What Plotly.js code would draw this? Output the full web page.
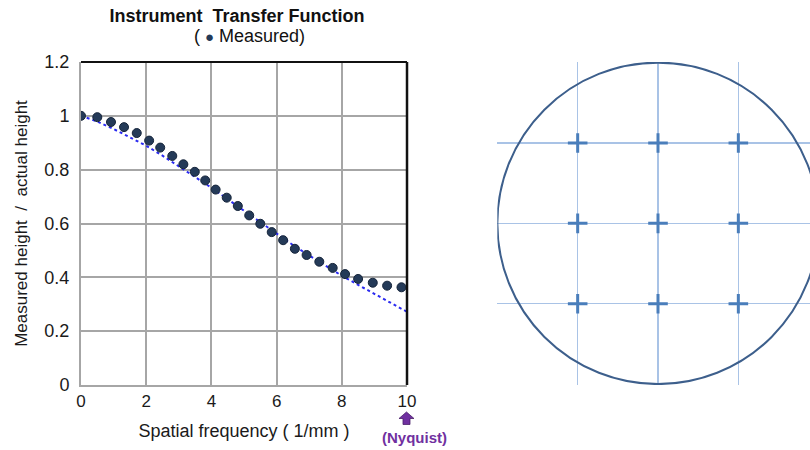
<!DOCTYPE html>
<html>
<head>
<meta charset="utf-8">
<script src="https://cdn.plot.ly/plotly-3.0.1.min.js"></script>
<style>
  html, body { margin: 0; padding: 0; background: #ffffff; }
  #chart { width: 810px; height: 450px; }
</style>
</head>
<body>
<div id="chart"></div>
<script>
// Measured transfer function points
const freqMeasured = [0, 0.5, 0.92, 1.32, 1.71, 2.09, 2.43, 2.8, 3.14, 3.49, 3.81, 4.13, 4.47, 4.81,
  5.16, 5.5, 5.85, 6.2, 6.56, 6.92, 7.31, 7.72, 8.1, 8.5, 8.95, 9.39, 9.83];
const heightMeasured = [1.0, 0.995, 0.977, 0.958, 0.936, 0.908, 0.882, 0.851, 0.82, 0.792, 0.76, 0.726, 0.696, 0.665,
  0.63, 0.599, 0.568, 0.538, 0.506, 0.483, 0.458, 0.435, 0.412, 0.394, 0.38, 0.369, 0.363];

// Model (dotted) curve
const freqModel = [0, 0.5, 1, 1.5, 2, 2.5, 3, 3.5, 4, 4.5, 5, 5.5, 6, 6.5, 7, 7.5, 8, 8.5, 9, 9.5, 10];
const heightModel = [1.0, 0.979, 0.951, 0.921, 0.889, 0.852, 0.813, 0.773, 0.733, 0.690, 0.647, 0.603,
  0.561, 0.520, 0.481, 0.443, 0.406, 0.372, 0.338, 0.305, 0.272];

// Tick labels
const xTicks = [0, 2, 4, 6, 8, 10];
const yTicks = [0, 0.2, 0.4, 0.6, 0.8, 1, 1.2];
const yTickText = ['0', '0.2', '0.4', '0.6', '0.8', '1', '1.2'];

// Sampling grid diagram (right panel)
const gridX = [-1, 0, 1, -1, 0, 1, -1, 0, 1];
const gridY = [1, 1, 1, 0, 0, 0, -1, -1, -1];
const gridLines = [-1, 0, 1];
const apertureRadius = 2;

const FONT = 'Liberation Sans, Arial, sans-serif';
const GRID = '#a6a6a6';

// Layout geometry (pixels)
const W = 810, H = 450, ML = 81, MR = 0, MT = 62, MB = 65;
const PW = W - ML - MR, PH = H - MT - MB;
const px = v => ((v - ML) / PW).toFixed(5);
const py = v => ((H - MB - v) / PH).toFixed(5);

// Block arrow marking the Nyquist frequency (decoration, in pixel geometry)
const ax0 = 406.5, tipY = 412, headY = 418.5, baseY = 424.5, headHW = 7.5, shaftHW = 3.5;
const arrowPath = 'M' + px(ax0) + ',' + py(tipY) +
  ' L' + px(ax0 + headHW) + ',' + py(headY) +
  ' L' + px(ax0 + shaftHW) + ',' + py(headY) +
  ' L' + px(ax0 + shaftHW) + ',' + py(baseY) +
  ' L' + px(ax0 - shaftHW) + ',' + py(baseY) +
  ' L' + px(ax0 - shaftHW) + ',' + py(headY) +
  ' L' + px(ax0 - headHW) + ',' + py(headY) + ' Z';

const traces = [
  {
    x: freqModel, y: heightModel, type: 'scatter', mode: 'lines',
    line: { color: '#2a2af0', width: 2, dash: 'dot' },
    xaxis: 'x', yaxis: 'y', hoverinfo: 'skip'
  },
  {
    x: freqMeasured, y: heightMeasured, type: 'scatter', mode: 'markers',
    marker: { color: '#243a58', size: 9, line: { color: '#15243a', width: 1 } },
    xaxis: 'x', yaxis: 'y', hoverinfo: 'skip'
  },
  {
    x: gridX, y: gridY, type: 'scatter', mode: 'markers',
    marker: { symbol: 'cross-thin', size: 14, color: '#4a7ebb', line: { color: '#4a7ebb', width: 3 } },
    xaxis: 'x2', yaxis: 'y2', hoverinfo: 'skip'
  }
];

const layout = {
  width: W, height: H,
  margin: { l: ML, r: MR, t: MT, b: MB },
  paper_bgcolor: '#ffffff', plot_bgcolor: '#ffffff',
  showlegend: false, hovermode: false,
  font: { family: FONT, color: '#1a1a1a', size: 17 },
  title: {
    text: '<b>Instrument  Transfer Function</b>',
    font: { family: FONT, size: 18, color: '#111111' },
    xref: 'paper', x: 0.214, xanchor: 'center',
    yref: 'container', y: 0.965, yanchor: 'middle'
  },
  xaxis: {
    domain: [0, 0.4472], range: [0, 10], tickvals: xTicks, ticktext: xTicks.map(String),
    showgrid: true, gridcolor: GRID, gridwidth: 2, zeroline: false,
    showline: true, linecolor: GRID, linewidth: 2, ticks: '',
    tickfont: { family: FONT, size: 17, color: '#1a1a1a' },
    title: { text: 'Spatial frequency ( 1/mm )', font: { family: FONT, size: 18, color: '#1a1a1a' }, standoff: 14 },
    fixedrange: true
  },
  yaxis: {
    domain: [0, 1], range: [0, 1.2], tickvals: yTicks, ticktext: yTickText,
    showgrid: true, gridcolor: GRID, gridwidth: 2, zeroline: false,
    showline: true, linecolor: GRID, linewidth: 2, ticks: '',
    tickfont: { family: FONT, size: 18, color: '#1a1a1a' },
    ticklabelstandoff: 6,
    title: { text: 'Measured height  /  actual height', font: { family: FONT, size: 17, color: '#1a1a1a' }, standoff: 12 },
    fixedrange: true
  },
  xaxis2: {
    domain: [0.5711, 1], range: [-2, 1.892], anchor: 'y2',
    tickvals: gridLines, showticklabels: false, ticks: '',
    showgrid: true, gridcolor: '#a9c3e6', gridwidth: 1.5, zeroline: false, showline: false,
    fixedrange: true
  },
  yaxis2: {
    domain: [0, 1], range: [-2.012, 2.008], anchor: 'x2',
    tickvals: gridLines, showticklabels: false, ticks: '',
    showgrid: true, gridcolor: '#a9c3e6', gridwidth: 1.5, zeroline: false, showline: false,
    fixedrange: true
  },
  shapes: [
    { type: 'line', xref: 'x domain', yref: 'y domain', x0: 0, x1: 1, y0: 1, y1: 1,
      line: { color: '#111111', width: 2 } },
    { type: 'line', xref: 'x domain', yref: 'y domain', x0: 1, x1: 1, y0: 1, y1: 0,
      line: { color: '#111111', width: 2.5 } },
    { type: 'circle', xref: 'x2', yref: 'y2',
      x0: -apertureRadius, x1: apertureRadius, y0: -apertureRadius, y1: apertureRadius,
      line: { color: '#3d5f8c', width: 2 }, fillcolor: 'rgba(0,0,0,0)' },
    { type: 'path', xref: 'paper', yref: 'paper', path: arrowPath,
      fillcolor: '#7030a0', line: { color: '#4a1f6a', width: 0.8 } }
  ],
  annotations: [
    {
      text: '( <span style="font-size:15px;color:#243a58">●</span> Measured)',
      xref: 'paper', yref: 'paper', x: 0.2318, y: 1.0805, xanchor: 'center', yanchor: 'middle',
      showarrow: false, font: { family: FONT, size: 18, color: '#111111' }
    },
    {
      text: '<b>(Nyquist)</b>', xref: 'paper', yref: 'paper', x: 0.457, y: -0.164,
      xanchor: 'center', yanchor: 'middle', showarrow: false,
      font: { family: FONT, size: 15, color: '#7030a0' }
    }
  ]
};

Plotly.newPlot('chart', traces, layout, { staticPlot: true, displayModeBar: false });
</script>
</body>
</html>
